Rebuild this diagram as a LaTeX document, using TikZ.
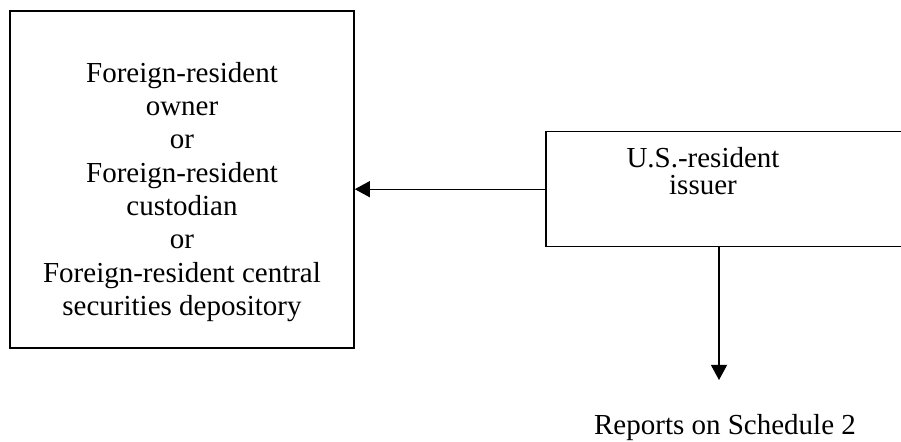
\documentclass[tikz,border=0pt]{standalone}
\usepackage{fontspec}
\setmainfont{Liberation Serif}
\usetikzlibrary{arrows.meta}
\tikzset{
	frame/.style={draw, line width=0.9pt, rectangle, inner sep=0pt},
	link/.style={line width=0.6pt, -{Triangle[length=0.3cm, width=0.32cm]}},
	words/.style={align=center, inner sep=0pt, font=\fontsize{16.5}{18.96}\selectfont},
	tightwords/.style={align=center, inner sep=0pt, font=\fontsize{16.5}{15.37}\selectfont},
}

\begin{document}
\begin{tikzpicture}
		%%%%% START %%%%%
		
		\useasboundingbox (0, 0) rectangle (18.02, 8.84);
		
		\node[frame, minimum width=6.88cm, minimum height=6.74cm] (owner) at (3.64, 5.25) {};
		\node[words] (ownertext) at (3.64, 5.0) {Foreign-resident\\owner\\or\\Foreign-resident\\custodian\\or\\Foreign-resident central\\securities depository};
		
		\node[frame, minimum width=7.18cm, minimum height=2.3cm] (issuer) at (14.51, 5.056) {};
		\node[tightwords] (issuertext) at (14.06, 5.42) {U.S.-resident\\issuer};
		
		\draw[link] (issuer.west) -- (issuer.west -| owner.east);
		
		\coordinate (tip) at (14.38, 1.24);
		\draw[link] (issuer.south -| tip) -- (tip);
		
		\node[words, anchor=base] (report) at (14.5, 0.15) {Reports on Schedule 2};
		
		%%%%% END %%%%%
	\end{tikzpicture}
\end{document}
